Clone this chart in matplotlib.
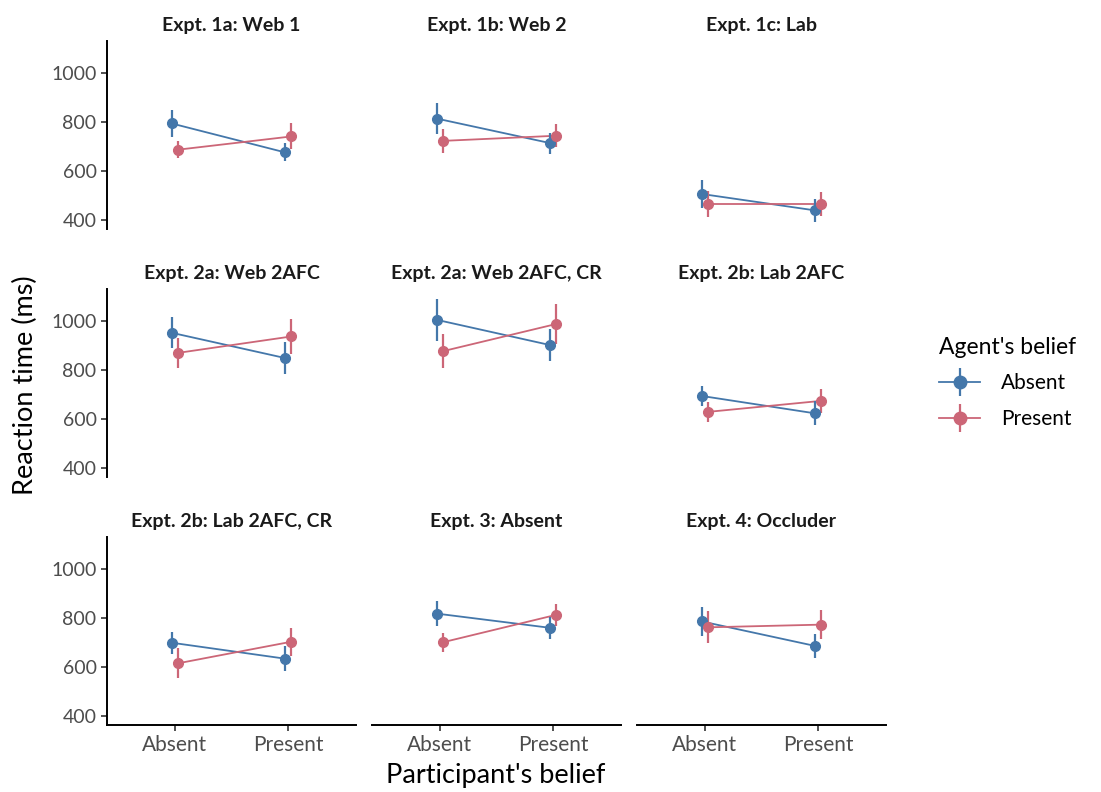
import numpy as np
import matplotlib
matplotlib.use("Agg")
import matplotlib.pyplot as plt
from matplotlib.lines import Line2D
from matplotlib.legend_handler import HandlerTuple

plt.rcParams['font.family'] = ['Lato', 'DejaVu Sans']

panels = ["Expt. 1a: Web 1", "Expt. 1b: Web 2", "Expt. 1c: Lab",
          "Expt. 2a: Web 2AFC", "Expt. 2a: Web 2AFC, CR", "Expt. 2b: Lab 2AFC",
          "Expt. 2b: Lab 2AFC, CR", "Expt. 3: Absent", "Expt. 4: Occluder"]
x_labels = ["Absent", "Present"]

# mean RT, [participant Absent, participant Present]
absent_mean = [[793, 675], [813, 713], [505, 438],
               [951, 848], [1004, 901], [693, 622],
               [698, 633], [817, 759], [785, 685]]
absent_err = [[56, 37], [62, 43], [57, 46],
              [63, 67], [87, 65], [42, 49],
              [45, 52], [50, 46], [59, 50]]
present_mean = [[686, 740], [722, 743], [464, 464],
                [869, 936], [876, 987], [628, 673],
                [614, 702], [700, 812], [761, 772]]
present_err = [[35, 53], [50, 47], [53, 50],
               [62, 72], [70, 83], [40, 48],
               [61, 58], [38, 45], [65, 58]]

blue = "#4477AA"
red = "#CC6677"
W, H = 1101, 792

fig = plt.figure(figsize=(W / 100, H / 100), dpi=100)

col_x = [107, 372, 637]
row_y = [41, 289, 537]
pw, ph = 249, 188

x = np.array([1, 2])
dodge = 0.027
for i, name in enumerate(panels):
    r, c = divmod(i, 3)
    ax = fig.add_axes([col_x[c] / W, 1 - (row_y[r] + ph) / H, pw / W, ph / H])
    for mean, err, col, off in [(absent_mean[i], absent_err[i], blue, -dodge),
                                (present_mean[i], present_err[i], red, dodge)]:
        ax.plot(x + off, mean, color=col, lw=1.3, zorder=2)
        ax.errorbar(x + off, mean, yerr=err, fmt='o', color=col, ms=7,
                    elinewidth=1.6, capsize=0, zorder=3)
    ax.set_xlim(0.4, 2.6)
    ax.set_ylim(362, 1130)
    ax.set_yticks([400, 600, 800, 1000])
    ax.set_xticks(x)
    ax.set_xticklabels(x_labels)
    for s in ["top", "right"]:
        ax.spines[s].set_visible(False)
    ax.spines["left"].set_linewidth(1.4)
    ax.spines["bottom"].set_linewidth(1.4)
    ax.tick_params(colors="#333333", width=1.2, length=4,
                   labelcolor="#4D4D4D")
    ax.tick_params(axis='x', labelsize=15)
    ax.tick_params(axis='y', labelsize=14)
    if c != 0:
        ax.spines["left"].set_visible(False)
        ax.tick_params(axis='y', left=False, labelleft=False)
    if r != 2:
        ax.spines["bottom"].set_visible(False)
        ax.tick_params(axis='x', bottom=False, labelbottom=False)
    ax.set_title(name, fontsize=14, fontweight="bold", color="#1A1A1A", pad=7)

fig.text(496 / W, 1 - 775 / H, "Participant's belief", ha="center", va="center",
         fontsize=19.5)
fig.text(25 / W, 1 - 385 / H, "Reaction time (ms)", ha="center", va="center",
         rotation=90, fontsize=19.5)

handles = []
for col in [blue, red]:
    handles.append((Line2D([], [], color=col, lw=1.3),
                    Line2D([], [], color=col, marker='|', ms=20, mew=1.6, ls='None'),
                    Line2D([], [], color=col, marker='o', ms=9, ls='None')))
leg = fig.legend(handles, ["Absent", "Present"], title="Agent's belief",
                 handler_map={tuple: HandlerTuple(ndivide=1, pad=0)},
                 loc="upper left", bbox_to_anchor=(920 / W, 1 - 318 / H),
                 frameon=False, fontsize=15, title_fontsize=16.5,
                 handlelength=2.0, labelspacing=0.75, handletextpad=1.0)
leg._legend_box.align = "left"

fig.savefig("out.png", dpi=100)
